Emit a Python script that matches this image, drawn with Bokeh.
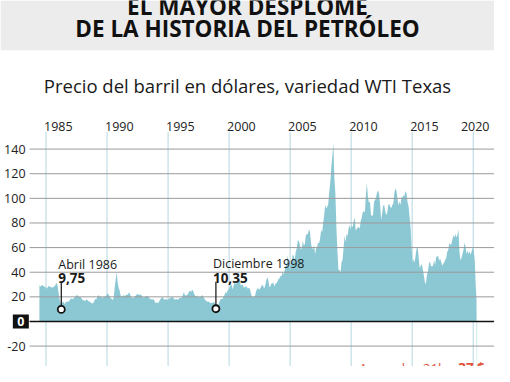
from bokeh.plotting import figure
from bokeh.models import ColumnDataSource, Range1d
from bokeh.embed import file_html
from bokeh.resources import INLINE
from bokeh.core.properties import value

# ---------------- data ----------------
header_lines = ["EL MAYOR DESPLOME", "DE LA HISTORIA DEL PETRÓLEO"]
subtitle = "Precio del barril en dólares, variedad WTI Texas"
year_ticks = [1985, 1990, 1995, 2000, 2005, 2010, 2015, 2020]
price_ticks = [-20, 0, 20, 40, 60, 80, 100, 120, 140]

first_year = 1984
first_month = 6  # June 1984
wti_monthly = [
    29.5, 28.5, 29.2, 29.5, 28.8, 28.3, 27.8,                               # 1984
    26.5, 27.5, 28.8, 28.5, 28.0, 27.5, 27.5, 28.0, 28.8, 30.0, 31.5, 28.5,  # 1985
    22.5, 17.5, 14.5, 14.0, 16.5, 15.5, 14.0, 16.0, 16.0, 16.0, 16.5, 17.5,  # 1986
    19.0, 18.0, 18.5, 19.0, 19.8, 20.5, 22.0, 20.5, 19.8, 20.0, 19.2, 17.8,  # 1987
    17.5, 17.0, 16.5, 18.0, 17.5, 16.8, 16.0, 16.0, 15.0, 14.5, 15.0, 16.8,  # 1988
    18.2, 18.0, 19.8, 21.5, 20.2, 20.0, 19.8, 18.8, 19.8, 20.2, 20.0, 21.5,  # 1989
    23.0, 22.0, 20.5, 18.8, 18.5, 17.5, 19.0, 27.5, 34.0, 40.0, 31.5, 27.0,  # 1990
    25.0, 20.5, 20.0, 21.0, 21.2, 20.5, 21.5, 21.8, 22.0, 23.5, 22.5, 19.8,  # 1991
    19.0, 19.2, 19.2, 20.5, 21.0, 22.5, 22.0, 21.5, 22.0, 21.8, 20.5, 19.5,  # 1992
    19.2, 20.2, 20.4, 20.4, 20.0, 19.2, 18.0, 18.2, 17.8, 18.3, 17.0, 15.0,  # 1993
    15.5, 15.2, 15.0, 16.8, 18.0, 19.2, 19.8, 18.5, 17.8, 17.8, 18.2, 17.5,  # 1994
    18.2, 18.8, 18.8, 20.0, 19.8, 18.8, 17.6, 18.0, 18.2, 17.6, 18.2, 19.2,  # 1995
    19.0, 19.3, 21.5, 23.8, 21.5, 20.8, 21.5, 22.2, 24.2, 25.2, 24.0, 25.6,  # 1996
    25.3, 22.5, 21.2, 20.0, 21.0, 19.6, 19.9, 20.0, 20.0, 21.4, 20.4, 18.6,  # 1997
    17.5, 16.8, 16.0, 16.3, 15.8, 15.0, 15.2, 14.8, 15.8, 15.4, 14.2, 13.5,  # 1998
    14.0, 13.5, 16.0, 18.0, 18.2, 18.2, 20.3, 21.5, 24.0, 22.8, 25.2, 26.2,  # 1999
    27.5, 29.5, 30.0, 26.0, 29.0, 32.0, 30.0, 31.5, 34.5, 33.5, 35.0, 29.0,  # 2000
    29.8, 29.8, 27.5, 27.6, 28.8, 27.8, 26.6, 27.6, 26.2, 22.5, 20.0, 19.6,  # 2001
    19.9, 20.8, 24.6, 26.3, 27.1, 25.6, 27.0, 28.5, 29.8, 29.0, 26.5, 29.5,  # 2002
    33.0, 36.0, 33.8, 28.5, 28.3, 30.8, 30.9, 31.7, 28.5, 30.4, 31.2, 32.3,  # 2003
    34.4, 34.8, 36.9, 36.8, 40.4, 38.2, 40.8, 45.0, 46.0, 53.5, 48.6, 43.5,  # 2004
    46.9, 48.2, 54.4, 53.1, 50.0, 56.4, 59.1, 65.5, 65.8, 62.5, 58.4, 59.5,  # 2005
    65.6, 61.7, 63.0, 70.0, 71.0, 71.1, 74.6, 73.1, 64.0, 59.0, 59.2, 62.1,  # 2006
    54.6, 59.4, 60.5, 64.0, 63.6, 67.6, 74.2, 72.5, 80.0, 86.0, 95.0, 91.8,  # 2007
    93.1, 95.5, 105.6, 112.8, 125.5, 134.0, 145.0, 116.8, 104.2, 76.7, 57.4, 42.0,  # 2008
    41.8, 39.5, 48.0, 49.7, 59.1, 69.7, 64.3, 71.2, 69.5, 75.8, 78.1, 74.6,  # 2009
    78.4, 76.5, 81.3, 84.4, 73.8, 75.4, 76.4, 76.7, 75.3, 82.0, 84.4, 89.3,  # 2010
    89.3, 88.7, 103.0, 112.0, 101.0, 96.4, 97.4, 86.4, 85.6, 86.4, 97.3, 98.7,  # 2011
    100.4, 105.0, 106.3, 103.4, 94.8, 82.4, 88.0, 94.2, 94.6, 89.6, 86.6, 88.0,  # 2012
    94.9, 95.4, 93.0, 92.1, 94.6, 95.9, 104.7, 108.0, 106.4, 100.6, 94.0, 97.7,  # 2013
    94.7, 100.9, 100.9, 102.2, 102.3, 105.9, 103.7, 96.6, 93.3, 84.5, 75.9, 59.4,  # 2014
    47.3, 50.7, 47.9, 54.6, 59.4, 59.9, 51.0, 43.0, 45.6, 46.3, 42.5, 37.3,  # 2015
    31.8, 30.5, 37.6, 40.9, 46.8, 48.9, 44.8, 44.8, 45.3, 49.9, 45.8, 52.1,  # 2016
    52.6, 53.6, 49.4, 51.2, 48.6, 45.3, 46.7, 48.1, 49.9, 51.7, 56.7, 58.0,  # 2017
    63.8, 62.3, 62.8, 66.4, 70.1, 68.0, 71.1, 68.2, 70.3, 75.0, 57.1, 49.6,  # 2018
    51.5, 55.1, 58.3, 64.0, 60.9, 54.8, 57.5, 54.9, 57.1, 54.1, 57.1, 60.0,  # 2019
    57.6, 50.6, 29.3,                                                        # 2020
]
crash_dates = [2020.27, 2020.30, 2020.32]
crash_values = [18.0, -37.6, -37.6]

ann_dates = [1986.25, 1998.92]
ann_values = [9.75, 10.35]
ann_months = ["Abril 1986", "Diciembre 1998"]
ann_texts = ["9,75", "10,35"]
last_note = "Ayer a las 21h."
last_value = "-37 $"

# ---------------- layout helpers (reference-pixel geometry) ----------------
W, H = 494, 366
def vx(px):   # horizontal pixel of the 510-wide layout -> year
    return 1985 + (px - 47) / 12.6
def vy(py):   # vertical pixel of the 382-high layout -> dollars
    return (335 - py) / 1.285

FONT = value("Open Sans")
INK = "#1a1a1a"
RED = "#e0533a"

dates = [first_year + (first_month - 1 + i + 0.5) / 12 for i in range(len(wti_monthly))]
xs = dates + crash_dates
ys = wti_monthly + crash_values

x0, x1 = vx(0), vx(510)
y0, y1 = vy(382), vy(0)
plot_left = vx(30)
plot_top = vy(137)

p = figure(width=W, height=H, output_backend="svg", toolbar_location=None,
           x_range=Range1d(x0, x1), y_range=Range1d(y0, y1),
           x_axis_location=None, y_axis_location=None, min_border=0,
           outline_line_color=None, background_fill_color="white", border_fill_color="white")
p.grid.visible = False

# header band
p.quad(left=[x0], right=[x1], bottom=[vy(52)], top=[y1], fill_color="#ececec", line_color=None)
p.text(x=[(x0 + x1) / 2] * 2, y=[vy(6), vy(29)], text=header_lines,
       text_align="center", text_baseline="alphabetic", text_font=FONT,
       text_font_style="bold", text_font_size="22.5px", text_color="#111111")

# subtitle
p.text(x=[vx(255)], y=[vy(88.5)], text=[subtitle], text_align="center",
       text_baseline="alphabetic", text_font=FONT, text_font_size="18.5px", text_color=INK)

# year lines and labels
p.segment(x0=year_ticks, y0=[y0] * len(year_ticks), x1=year_ticks, y1=[plot_top] * len(year_ticks),
          line_color="#b3d7e1", line_width=1)
p.text(x=year_ticks[:-1], y=[vy(132)] * (len(year_ticks) - 1),
       text=[str(v) for v in year_ticks[:-1]],
       x_offset=-2, text_align="left", text_baseline="alphabetic", text_font=FONT,
       text_font_size="12.5px", text_color="#222222")
p.text(x=year_ticks[-1:], y=[vy(132)], text=[str(v) for v in year_ticks[-1:]],
       x_offset=2, text_align="center", text_baseline="alphabetic", text_font=FONT,
       text_font_size="12.5px", text_color="#222222")

# price area
src = ColumnDataSource(dict(x=xs, y=ys))
p.varea(x="x", y1=0, y2="y", source=src, fill_color="#8cc8d4", fill_alpha=1)

# horizontal grid lines (over the area)
grid_vals = [t for t in price_ticks if t != 0]
p.segment(x0=[plot_left] * len(grid_vals), y0=grid_vals, x1=[x1] * len(grid_vals), y1=grid_vals,
          line_color="#9a9a9a", line_width=1)
p.segment(x0=[plot_left], y0=[0], x1=[x1], y1=[0], line_color="#111111", line_width=1.5)

# price tick labels
p.text(x=[plot_left] * len(grid_vals), y=grid_vals, text=[str(v) for v in grid_vals],
       x_offset=-4, text_align="right", text_baseline="middle", text_font=FONT,
       text_font_size="12.5px", text_color="#222222")
p.rect(x=[vx(21)], y=[0], width=16, height=14, width_units="screen", height_units="screen",
       fill_color="#111111", line_color=None)
p.text(x=[vx(21)], y=[0], text=["0"], text_align="center", text_baseline="middle",
       text_font=FONT, text_font_style="bold", text_font_size="12.5px", text_color="white")

# annotated minimums
asrc = ColumnDataSource(dict(x=ann_dates, y=ann_values, ytop=[v + 22 for v in ann_values],
                             month=ann_months, val=ann_texts))
p.segment(x0="x", y0="y", x1="x", y1="ytop", source=asrc, line_color="#111111", line_width=1.2)
p.scatter(x="x", y="y", source=asrc, size=7, marker="circle", fill_color="white",
          line_color="#111111", line_width=1.8)
p.text(x="x", y="y", text="month", source=asrc, x_offset=-3, y_offset=-45,
       text_align="left", text_baseline="alphabetic", text_font=FONT,
       text_font_size="12.5px", text_color=INK)
p.text(x="x", y="y", text="val", source=asrc, x_offset=-3, y_offset=-31,
       text_align="left", text_baseline="alphabetic", text_font=FONT,
       text_font_style="bold", text_font_size="13.5px", text_color=INK)

# last value note
p.text(x=[vx(464)], y=[vy(374.5)], text=[last_note], text_align="right", text_baseline="top",
       text_font=FONT, text_font_size="13.5px", text_color=RED)
p.text(x=[vx(468)], y=[vy(374.5)], text=[last_value], text_align="left", text_baseline="top",
       text_font=FONT, text_font_style="bold", text_font_size="13.5px", text_color=RED)

open("out.html", "w").write(file_html(p, INLINE))
